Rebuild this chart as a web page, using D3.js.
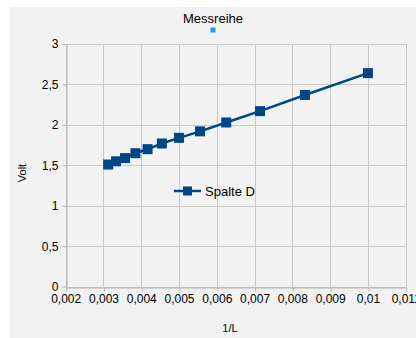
<!DOCTYPE html>
<html><head><meta charset="utf-8">
<script src="https://cdn.jsdelivr.net/npm/d3@7"></script>
<style>body{margin:0;background:#fff}svg{display:block}</style>
</head><body>
<svg id="c" width="416" height="338"></svg>
<script>
const xValues = [0.003125, 0.003333, 0.003571, 0.003846, 0.004167, 0.004545, 0.005, 0.005556, 0.00625, 0.007143, 0.008333, 0.01];
const yValues = [1.51, 1.55, 1.59, 1.65, 1.70, 1.77, 1.84, 1.92, 2.03, 2.17, 2.37, 2.64];
const xTicks = [0.002,0.003,0.004,0.005,0.006,0.007,0.008,0.009,0.01,0.011];
const yTicks = [0,0.5,1,1.5,2,2.5,3];
const seriesName = "Spalte D";
const title = "Messreihe";
const xTitle = "1/L", yTitle = "Volt";

const svg = d3.select("#c");
const font = "'Liberation Sans', Arial, sans-serif";
const color = "#004586";
svg.append("rect").attr("x",10).attr("y",7).attr("width",406).attr("height",331).attr("fill","#f2f2f2");

const x = d3.scaleLinear().domain([0.002,0.011]).range([65.7,405.7]);
const y = d3.scaleLinear().domain([0,3]).range([286.7,44]);
const fmt = d => String(+d.toFixed(3)).replace(".", ",");

// grid
svg.append("g").selectAll("line").data(yTicks).join("line")
  .attr("x1",x(0.002)).attr("x2",x(0.011)).attr("y1",d=>Math.round(y(d))+0.5).attr("y2",d=>Math.round(y(d))+0.5)
  .attr("stroke","#c8c8c8").attr("stroke-width",1);
svg.append("g").selectAll("line").data(xTicks).join("line")
  .attr("y1",y(0)).attr("y2",y(3)).attr("x1",d=>Math.round(x(d))+0.5).attr("x2",d=>Math.round(x(d))+0.5)
  .attr("stroke","#c8c8c8").attr("stroke-width",1);

// axes
const xa = svg.append("g").attr("transform",`translate(0,${Math.round(y(0))+0.5})`)
  .call(d3.axisBottom(x).tickValues(xTicks).tickFormat(fmt).tickSize(4).tickSizeOuter(0).tickPadding(3));
const ya = svg.append("g").attr("transform",`translate(${Math.round(x(0.002))+0.5},0)`)
  .call(d3.axisLeft(y).tickValues(yTicks).tickFormat(fmt).tickSize(4).tickSizeOuter(0).tickPadding(4));
[xa,ya].forEach(a=>{
  a.select(".domain").attr("stroke","#b3b3b3");
  a.selectAll(".tick line").attr("stroke","#b3b3b3");
  a.selectAll("text").attr("font-family",font).attr("font-size",12).attr("fill","#000");
});
xa.selectAll(".tick line").attr("transform","translate(0.5,0)");

// series
const pts = xValues.map((v,i)=>[v,yValues[i]]);
svg.append("path").datum(pts).attr("fill","none").attr("stroke",color).attr("stroke-width",2.5)
  .attr("d",d3.line().x(d=>x(d[0])).y(d=>y(d[1])));
svg.append("g").selectAll("rect").data(pts).join("rect")
  .attr("x",d=>x(d[0])-5).attr("y",d=>y(d[1])-5).attr("width",10).attr("height",10).attr("fill",color);

// legend
const lx = 174, ly = 191;
svg.append("line").attr("x1",lx).attr("x2",lx+27).attr("y1",ly).attr("y2",ly).attr("stroke",color).attr("stroke-width",2.5);
svg.append("rect").attr("x",lx+13.5-4.5).attr("y",ly-4.5).attr("width",9).attr("height",9).attr("fill",color);
svg.append("text").attr("x",lx+31).attr("y",ly+5).text(seriesName).attr("font-family",font).attr("font-size",13);

// title
svg.append("text").attr("x",213).attr("y",23).attr("text-anchor","middle").text(title).attr("font-family",font).attr("font-size",13);
svg.append("rect").attr("x",210.5).attr("y",27.5).attr("width",5).attr("height",5).attr("fill","#2196f3");

// axis titles
svg.append("text").attr("x",230).attr("y",332).attr("text-anchor","middle").text(xTitle).attr("font-family",font).attr("font-size",11);
svg.append("text").attr("transform","translate(26,173) rotate(-90)").attr("text-anchor","middle").text(yTitle).attr("font-family",font).attr("font-size",11);
</script>
</body></html>
